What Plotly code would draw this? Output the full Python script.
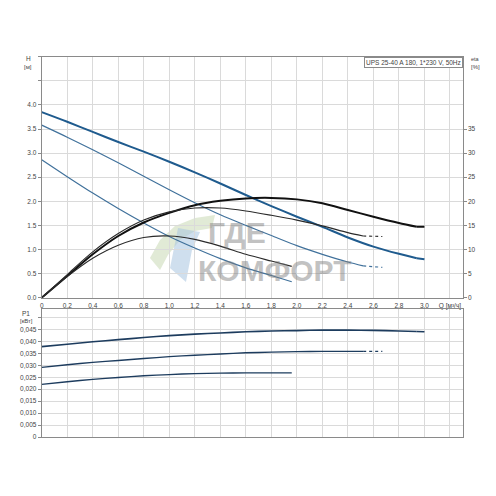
import plotly.graph_objects as go

# ---------------- data ----------------
Q3 = [0, 0.2, 0.4, 0.6, 0.8, 1.0, 1.2, 1.4, 1.6, 1.8, 2.0, 2.2, 2.4, 2.6, 2.8, 2.94]
H3 = [3.85, 3.65, 3.44, 3.23, 3.03, 2.82, 2.60, 2.37, 2.13, 1.90, 1.68, 1.47, 1.25, 1.06, 0.91, 0.82]
ETA3 = [0, 4.5, 9.0, 12.8, 15.6, 17.6, 19.2, 20.1, 20.6, 20.7, 20.4, 19.6, 18.2, 16.8, 15.5, 14.7]
P3 = [0.0378, 0.0388, 0.0398, 0.0407, 0.0416, 0.0424, 0.0430, 0.0435, 0.0440, 0.0443,
      0.0445, 0.0447, 0.0447, 0.0446, 0.0443, 0.0441]
Q3_ext = [2.94, 3.0]
H3_ext = [0.82, 0.80]
ETA3_ext = [14.7, 14.7]
P3_ext = [0.0441, 0.0440]

Q2 = [0, 0.2, 0.4, 0.6, 0.8, 1.0, 1.2, 1.4, 1.6, 1.8, 2.0, 2.2, 2.4, 2.52]
H2 = [3.58, 3.33, 3.07, 2.80, 2.52, 2.24, 1.97, 1.72, 1.50, 1.29, 1.08, 0.90, 0.74, 0.66]
ETA2 = [0, 4.8, 9.5, 13.3, 16.1, 17.8, 18.6, 18.6, 18.0, 17.1, 16.1, 14.9, 13.5, 12.8]
P2 = [0.0291, 0.0302, 0.0312, 0.0320, 0.0328, 0.0336, 0.0342, 0.0347, 0.0352, 0.0355,
      0.0357, 0.0358, 0.0358, 0.0358]
Q2_ext = [2.52, 2.67]
H2_ext = [0.66, 0.63]
ETA2_ext = [12.8, 12.7]
P2_ext = [0.0358, 0.0358]

Q1 = [0, 0.2, 0.4, 0.6, 0.8, 1.0, 1.2, 1.4, 1.6, 1.8, 1.96]
H1 = [2.86, 2.51, 2.17, 1.85, 1.55, 1.27, 1.03, 0.81, 0.62, 0.46, 0.33]
ETA1 = [0, 4.4, 8.2, 10.9, 12.5, 12.8, 12.1, 10.7, 9.0, 7.6, 6.5]
P1 = [0.0220, 0.0231, 0.0241, 0.0249, 0.0256, 0.0261, 0.0265, 0.0267, 0.0268, 0.0268, 0.0268]

Q_TICKS = [0, 0.2, 0.4, 0.6, 0.8, 1.0, 1.2, 1.4, 1.6, 1.8, 2.0, 2.2, 2.4, 2.6, 2.8, 3.0, 3.2]
Q_LABELS = ["0", "0,2", "0,4", "0,6", "0,8", "1,0", "1,2", "1,4", "1,6", "1,8", "2,0",
            "2,2", "2,4", "2,6", "2,8", "3,0", "Q [м³/ч]"]
H_TICKS = [0, 0.5, 1.0, 1.5, 2.0, 2.5, 3.0, 3.5, 4.0, 4.5, 5.0]
H_LABELS = ["0.0", "0.5", "1.0", "1.5", "2.0", "2.5", "3.0", "3.5", "4.0", "", ""]
ETA_TICKS = [0, 5, 10, 15, 20, 25, 30, 35]
ETA_LABELS = ["0", "5", "10", "15", "20", "25", "30", "35"]
P_TICKS = [0, 0.005, 0.010, 0.015, 0.020, 0.025, 0.030, 0.035, 0.040, 0.045, 0.050]
P_LABELS = ["0", "0,005", "0,010", "0,015", "0,020", "0,025", "0,030", "0,035", "0,040", "0,045", ""]

TITLE = "UPS 25-40 A 180, 1*230 V, 50Hz"

# ---------------- styling ----------------
# the page body has an 8px margin, so the figure is drawn 8px in from the window corner
OFF = 8
W = H = 480
def px(x):
    return (x - OFF) / W
def py(y):
    return 1 - (y - OFF) / H

BLUE_THICK = "#1f5b8e"
BLUE_THIN = "#40719b"
BLACK_THICK = "#111111"
BLACK_THIN = "#2a2a2a"
NAVY = "#1d3c5e"
GRID = "#dadada"
AXIS = "#8a8a8a"
FONT = "Liberation Sans, Arial, sans-serif"
TXT = "#444444"

fig = go.Figure()

def add(x, y, color, width, xa, ya, dash="solid"):
    fig.add_trace(go.Scatter(x=x, y=y, mode="lines", xaxis=xa, yaxis=ya,
                             line=dict(color=color, width=width, dash=dash, shape="spline", smoothing=0.8),
                             hoverinfo="skip", showlegend=False))

# H curves
add(Q3, H3, BLUE_THICK, 2.0, "x", "y")
add(Q3_ext, H3_ext, BLUE_THICK, 2.0, "x", "y", "dash")
add(Q2, H2, BLUE_THIN, 1.2, "x", "y")
add(Q2_ext, H2_ext, BLUE_THIN, 1.2, "x", "y", "dot")
add(Q1, H1, BLUE_THIN, 1.2, "x", "y")
# eta curves
add(Q3, ETA3, BLACK_THICK, 2.0, "x", "y2")
add(Q3_ext, ETA3_ext, BLACK_THICK, 2.0, "x", "y2", "dash")
add(Q2, ETA2, BLACK_THIN, 1.1, "x", "y2")
add(Q2_ext, ETA2_ext, BLACK_THIN, 1.1, "x", "y2", "dot")
add(Q1, ETA1, BLACK_THIN, 1.1, "x", "y2")
# P1 curves
add(Q3, P3, NAVY, 1.6, "x2", "y3")
add(Q3_ext, P3_ext, NAVY, 1.6, "x2", "y3", "dash")
add(Q2, P2, NAVY, 1.4, "x2", "y3")
add(Q2_ext, P2_ext, NAVY, 1.4, "x2", "y3", "dot")
add(Q1, P1, NAVY, 1.4, "x2", "y3")

XDOM = [px(41.7), px(462.7)]
tickfont = dict(family=FONT, size=6.5, color=TXT)

fig.update_layout(
    template="none",
    width=W, height=H,
    margin=dict(l=0, r=0, t=0, b=0, pad=0, autoexpand=False),
    paper_bgcolor="white", plot_bgcolor="white",
    showlegend=False,
    font=dict(family=FONT, size=6.5, color=TXT),
    xaxis=dict(domain=XDOM, anchor="y", range=[0, 3.3], tickmode="array", automargin=False,
               tickvals=Q_TICKS, ticktext=Q_LABELS, tickfont=tickfont,
               showgrid=True, gridcolor=GRID, gridwidth=1, zeroline=False,
               showline=True, linecolor=AXIS, linewidth=1, mirror=True,
               ticks="", ticklabelstandoff=1),
    yaxis=dict(domain=[py(297.7), py(56.7)], anchor="x", range=[0, 5], tickmode="array",
               automargin=False,
               tickvals=H_TICKS, ticktext=H_LABELS, tickfont=tickfont,
               showgrid=True, gridcolor=GRID, gridwidth=1, zeroline=False,
               showline=True, linecolor=AXIS, linewidth=1, mirror=True,
               ticks="outside", ticklen=3, tickcolor=AXIS),
    yaxis2=dict(overlaying="y", side="right", anchor="x", range=[0, 50], tickmode="array",
                automargin=False,
                tickvals=ETA_TICKS, ticktext=ETA_LABELS, tickfont=tickfont,
                showgrid=False, zeroline=False, showline=False,
                ticks="outside", ticklen=3, tickcolor=AXIS),
    xaxis2=dict(domain=XDOM, anchor="y3", range=[0, 3.3], tickmode="array", automargin=False,
                tickvals=Q_TICKS, showticklabels=False,
                showgrid=True, gridcolor=GRID, gridwidth=1, zeroline=False,
                showline=True, linecolor=AXIS, linewidth=1, mirror=True, ticks=""),
    yaxis3=dict(domain=[py(437), py(309.3)], anchor="x2", range=[0, 0.0534], tickmode="array",
                automargin=False,
                tickvals=P_TICKS, ticktext=P_LABELS, tickfont=tickfont,
                showgrid=True, gridcolor=GRID, gridwidth=1, zeroline=False,
                showline=True, linecolor=AXIS, linewidth=1, mirror=True,
                ticks="outside", ticklen=3, tickcolor=AXIS),
)

ann = []
def label(x, y, text, size=6.5, anchor="center"):
    ann.append(dict(x=px(x), y=py(y), xref="paper", yref="paper", text=text, showarrow=False,
                    xanchor=anchor, yanchor="middle", font=dict(family=FONT, size=size, color=TXT)))

label(28, 59, "H")
label(28, 67, "[м]", 6)
label(475, 59, "eta", 5.5)
label(475, 67, "[%]", 6)
label(26, 313, "P1")
label(26, 321, "[кВт]", 6)

ann.append(dict(x=XDOM[1], y=py(57), xref="paper", yref="paper", text=TITLE, showarrow=False,
                xanchor="right", yanchor="top", bgcolor="white", bordercolor=AXIS, borderwidth=1,
                borderpad=1, font=dict(family=FONT, size=6.5, color=TXT)))

# watermark
ann.append(dict(x=px(237), y=py(232), xref="paper", yref="paper", text="<b>ГДЕ</b>", showarrow=False,
                xanchor="center", yanchor="middle", opacity=0.45,
                font=dict(family=FONT, size=30, color="#7a7a7a")))
ann.append(dict(x=px(275), y=py(270), xref="paper", yref="paper", text="<b>КОМФОРТ</b>", showarrow=False,
                xanchor="center", yanchor="middle", opacity=0.45,
                font=dict(family=FONT, size=30, color="#7a7a7a")))
fig.update_layout(annotations=ann)

def path(points):
    return "M " + " L ".join(f"{px(a):.4f},{py(b):.4f}" for a, b in points) + " Z"

fig.add_shape(type="path", xref="paper", yref="paper", layer="below",
              path=path([(150, 258), (160, 240), (175, 226), (195, 218), (215, 215),
                         (212, 228), (195, 231), (180, 240), (168, 255), (160, 270)]),
              fillcolor="#c9d8b4", opacity=0.55, line=dict(width=0))
fig.add_shape(type="path", xref="paper", yref="paper", layer="below",
              path=path([(178, 228), (200, 232), (192, 250), (186, 282), (170, 268)]),
              fillcolor="#a8c4e0", opacity=0.55, line=dict(width=0))

fig.write_html("out.html")
